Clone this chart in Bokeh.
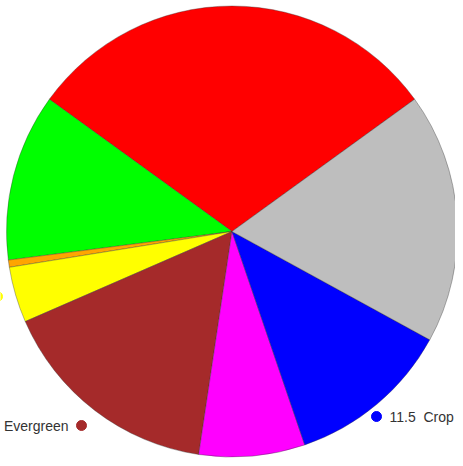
import numpy as np
from bokeh.plotting import figure
from bokeh.models import ColumnDataSource
from bokeh.core.properties import value
from bokeh.embed import file_html
from bokeh.resources import INLINE

# Data (counter-clockwise order starting from the top slice)
categories = ["Developed", "Grassland", "Wetland", "Shrubland", "Evergreen",
              "Deciduous", "Crop", "Barren"]
values = [29.3, 11.7, 0.5, 3.9, 15.7, 7.4, 11.5, 17.5]
colors = ["#ff0000", "#00ff00", "#ffa500", "#ffff00", "#a52a2a",
          "#ff00ff", "#0000ff", "#bebebe"]

W, H = 455, 458
cx, cy, r = 231.5, 227, 225.5

vals = np.array(values, dtype=float)
ang = vals / vals.sum() * 2 * np.pi
start0 = np.pi / 2 - ang[0] / 2
ends = start0 + np.cumsum(ang)
starts = ends - ang

src = ColumnDataSource(dict(cat=categories, val=values, color=colors,
                            start=starts, end=ends))

p = figure(width=W, height=H, x_range=(0, W), y_range=(0, H),
           output_backend="svg", toolbar_location=None, min_border=0,
           background_fill_color="white", border_fill_color="white")
p.axis.visible = False
p.grid.visible = False
p.outline_line_color = None

p.wedge(x=cx, y=cy, radius=r, start_angle="start", end_angle="end",
        direction="anticlock", fill_color="color", line_color="#333333",
        line_alpha=0.6, line_width=0.6, source=src)

font = value("Liberation Sans")

# Outer labels (mostly outside the visible area in the original)
ev = categories.index("Evergreen")
cr = categories.index("Crop")
sh = categories.index("Shrubland")

p.scatter([-3], [H - 296], size=10, marker="circle", color=colors[sh])

p.scatter([81], [H - 425], size=10, marker="circle", color=colors[ev])
p.text([68], [H - 425], text=[categories[ev]], text_align="right",
       text_baseline="middle", text_font=font,
       text_font_size="14px", text_color="#333333")

p.scatter([376], [H - 416], size=10, marker="circle", color=colors[cr])
p.text([389], [H - 416], text=[f"{values[cr]}"], text_align="left",
       text_baseline="middle", text_font=font,
       text_font_size="14px", text_color="#333333")
p.text([423], [H - 416], text=[categories[cr]], text_align="left",
       text_baseline="middle", text_font=font,
       text_font_size="14px", text_color="#333333")

open("out.html", "w").write(file_html(p, INLINE))
